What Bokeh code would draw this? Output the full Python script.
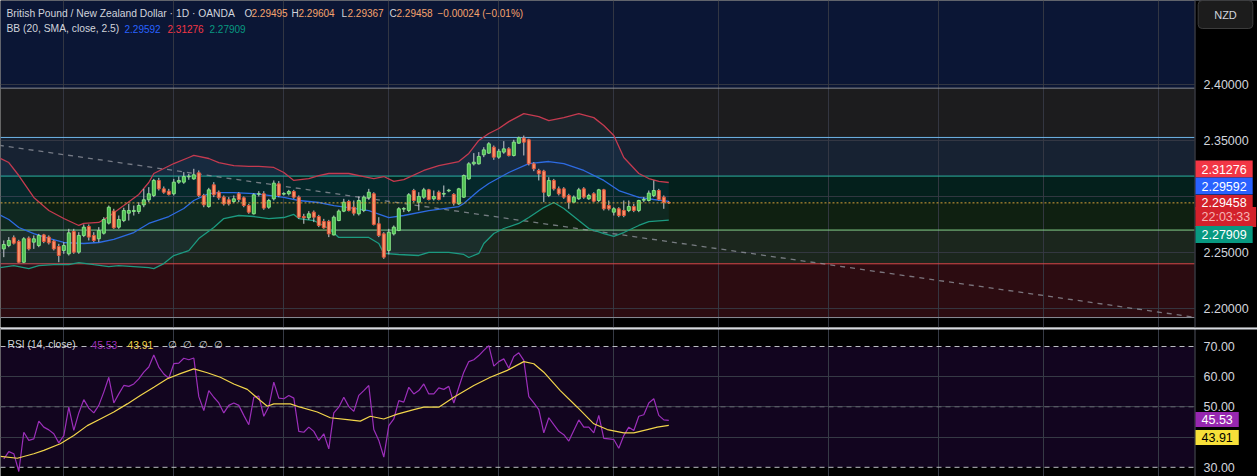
from bokeh.plotting import figure
from bokeh.models import Range1d, FixedTicker, Label, Span, BoxAnnotation
from bokeh.layouts import column
from bokeh.core.properties import value
from bokeh.embed import file_html
from bokeh.resources import INLINE

# ---------------- data ----------------
opens = [
    2.2535, 2.2565, 2.2634, 2.2601, 2.2416, 2.2631, 2.2595, 2.2565, 2.2660, 2.2640,
    2.2604, 2.2556, 2.2521, 2.2491, 2.2690, 2.2506, 2.2655, 2.2735, 2.2655, 2.2625,
    2.2675, 2.2765, 2.2872, 2.2729, 2.2788, 2.2854, 2.2869, 2.2869, 2.2928, 2.2973,
    2.3012, 2.3146, 2.3071, 2.3050, 2.3027, 2.3131, 2.3131, 2.3178, 2.3160, 2.3214,
    2.3012, 2.2913, 2.3107, 2.3041, 2.2997, 2.2973, 2.2958, 2.3027, 2.2991, 2.2922,
    2.2848, 2.3024, 2.3027, 2.2907, 2.2982, 2.3116, 2.3024, 2.3027, 2.3047, 2.2997,
    2.2824, 2.2812, 2.2863, 2.2824, 2.2780, 2.2780, 2.2660, 2.2788, 2.2872, 2.2958,
    2.2907, 2.2848, 2.2878, 2.2991, 2.3027, 2.2759, 2.2669, 2.2521, 2.2669, 2.2699,
    2.2890, 2.2878, 2.3056, 2.2952, 2.2997, 2.3062, 2.2982, 2.3041, 2.3024, 2.3053,
    2.3021, 2.2937, 2.2997, 2.3160, 2.3294, 2.3294, 2.3375, 2.3390, 2.3443, 2.3354,
    2.3399, 2.3428, 2.3369, 2.3479, 2.3524, 2.3509, 2.3294, 2.3235, 2.3229, 2.3012,
    2.3146, 2.3071, 2.3071, 2.3012, 2.2952, 2.2982, 2.3071, 2.2982, 2.3027, 2.2967,
    2.3062, 2.2922, 2.2863, 2.2893, 2.2878, 2.2878, 2.2913, 2.2878, 2.2970, 2.2967,
    2.3012, 2.3056, 2.2997, 2.29495]
highs = [
    2.2610, 2.2640, 2.2655, 2.2616, 2.2640, 2.2646, 2.2655, 2.2669, 2.2669, 2.2655,
    2.2616, 2.2580, 2.2595, 2.2714, 2.2714, 2.2684, 2.2753, 2.2753, 2.2684, 2.2729,
    2.2818, 2.2922, 2.2893, 2.2833, 2.2902, 2.2937, 2.2922, 2.2952, 2.3071, 2.3086,
    2.3160, 2.3169, 2.3092, 2.3071, 2.3160, 2.3181, 2.3220, 2.3205, 2.3250, 2.3235,
    2.3027, 2.3080, 2.3131, 2.3056, 2.3012, 2.2997, 2.3012, 2.3041, 2.3003, 2.2937,
    2.3032, 2.3050, 2.3050, 2.2982, 2.3146, 2.3140, 2.3041, 2.3062, 2.3062, 2.3012,
    2.2848, 2.2872, 2.2878, 2.2839, 2.2803, 2.2794, 2.2833, 2.2887, 2.2982, 2.2973,
    2.2967, 2.3003, 2.3012, 2.3071, 2.3041, 2.2818, 2.2684, 2.2714, 2.2744, 2.2907,
    2.2907, 2.3033, 2.3071, 2.3041, 2.3080, 2.3071, 2.3056, 2.3056, 2.3101, 2.3071,
    2.3033, 2.3080, 2.3199, 2.3309, 2.3390, 2.3399, 2.3443, 2.3488, 2.3458, 2.3428,
    2.3497, 2.3443, 2.3509, 2.3538, 2.3547, 2.3518, 2.3309, 2.3250, 2.3241, 2.3175,
    2.3160, 2.3092, 2.3086, 2.3027, 2.3012, 2.3080, 2.3086, 2.3027, 2.3041, 2.3071,
    2.3071, 2.2967, 2.2907, 2.2907, 2.2967, 2.2967, 2.2937, 2.2973, 2.2997, 2.3056,
    2.3146, 2.3071, 2.3012, 2.29604]
lows = [
    2.2461, 2.2550, 2.2574, 2.2408, 2.2408, 2.2521, 2.2535, 2.2550, 2.2586, 2.2574,
    2.2521, 2.2416, 2.2491, 2.2476, 2.2491, 2.2491, 2.2640, 2.2610, 2.2595, 2.2595,
    2.2663, 2.2753, 2.2714, 2.2714, 2.2774, 2.2788, 2.2833, 2.2848, 2.2907, 2.2952,
    2.2997, 2.3056, 2.3027, 2.3012, 2.3012, 2.3116, 2.3116, 2.3152, 2.3152, 2.2997,
    2.2907, 2.2902, 2.2997, 2.2973, 2.2922, 2.2922, 2.2943, 2.2952, 2.2907, 2.2848,
    2.2842, 2.3003, 2.2884, 2.2893, 2.2967, 2.2997, 2.3012, 2.3012, 2.2982, 2.2803,
    2.2759, 2.2794, 2.2774, 2.2729, 2.2714, 2.2640, 2.2655, 2.2782, 2.2863, 2.2869,
    2.2833, 2.2833, 2.2863, 2.2973, 2.2744, 2.2640, 2.2446, 2.2485, 2.2655, 2.2693,
    2.2863, 2.2863, 2.2952, 2.2878, 2.2982, 2.2967, 2.2967, 2.2967, 2.2997, 2.3041,
    2.2922, 2.2928, 2.2991, 2.3152, 2.3280, 2.3288, 2.3354, 2.3384, 2.3330, 2.3339,
    2.3384, 2.3360, 2.3360, 2.3473, 2.3369, 2.3280, 2.3229, 2.3146, 2.2952, 2.2997,
    2.3056, 2.3012, 2.2982, 2.2893, 2.2943, 2.2973, 2.2982, 2.2973, 2.2952, 2.2952,
    2.2878, 2.2878, 2.2833, 2.2818, 2.2818, 2.2863, 2.2863, 2.2863, 2.2952, 2.2958,
    2.2997, 2.2967, 2.2893, 2.29367]
closes = [
    2.2574, 2.2610, 2.2586, 2.2416, 2.2625, 2.2535, 2.2625, 2.2655, 2.2601, 2.2589,
    2.2535, 2.2476, 2.2565, 2.2678, 2.2506, 2.2655, 2.2729, 2.2640, 2.2610, 2.2699,
    2.2797, 2.2907, 2.2723, 2.2797, 2.2878, 2.2878, 2.2878, 2.2922, 2.2973, 2.3027,
    2.3146, 2.3071, 2.3041, 2.3021, 2.3131, 2.3146, 2.3181, 2.3184, 2.3196, 2.3012,
    2.2928, 2.3062, 2.3018, 2.2991, 2.2937, 2.2937, 2.2982, 2.2976, 2.2922, 2.2863,
    2.3018, 2.3027, 2.2899, 2.2967, 2.3122, 2.3012, 2.3030, 2.3047, 2.2997, 2.2818,
    2.2812, 2.2848, 2.2818, 2.2744, 2.2723, 2.2669, 2.2818, 2.2872, 2.2952, 2.2878,
    2.2854, 2.2967, 2.2997, 2.3041, 2.2753, 2.2655, 2.2461, 2.2684, 2.2729, 2.2893,
    2.2896, 2.3018, 2.2967, 2.3003, 2.3062, 2.2976, 2.3003, 2.2976, 2.3030, 2.3059,
    2.2943, 2.3071, 2.3190, 2.3294, 2.3309, 2.3360, 2.3419, 2.3473, 2.3354, 2.3407,
    2.3428, 2.3369, 2.3488, 2.3527, 2.3488, 2.3294, 2.3250, 2.3205, 2.3041, 2.3146,
    2.3071, 2.3027, 2.2997, 2.2952, 2.2997, 2.3062, 2.2997, 2.3012, 2.2961, 2.3062,
    2.2893, 2.2893, 2.2893, 2.2833, 2.2833, 2.2913, 2.2878, 2.2967, 2.2976, 2.3033,
    2.3056, 2.2976, 2.29482, 2.29458]

bb_up_x = [0, 2, 4, 7, 10, 13, 16, 17, 20, 22, 25, 28, 30, 31, 33, 35, 38, 39, 42, 44,
           47, 50, 52, 55, 57, 59, 62, 64, 66, 70, 73, 75, 77, 79, 81, 85, 88, 92, 94, 96,
           98, 100, 102, 105, 108, 110, 113, 116, 119, 121, 123, 125, 128, 130, 132, 134]
bb_up = [2.3350, 2.3306, 2.3190, 2.2994, 2.2878, 2.2806, 2.2744, 2.2762, 2.2771, 2.2824,
         2.2922, 2.3021, 2.3128, 2.3208, 2.3253, 2.3297, 2.3351, 2.3369, 2.3342, 2.3306,
         2.3279, 2.3271, 2.3271, 2.3262, 2.3217, 2.3146, 2.3163, 2.3190, 2.3208, 2.3208,
         2.3181, 2.3163, 2.3181, 2.3137, 2.3154, 2.3235, 2.3279, 2.3315, 2.3387, 2.3503,
         2.3565, 2.3610, 2.3671, 2.3743, 2.3716, 2.3680, 2.3707, 2.3743, 2.3707, 2.3637,
         2.3548, 2.3351, 2.3208, 2.3163, 2.3137, 2.31276]
bb_mid_x = [0, 2, 4, 7, 10, 13, 17, 20, 23, 27, 30, 34, 37, 39, 42, 44, 47, 51, 54, 57,
            60, 64, 67, 70, 74, 78, 81, 86, 92, 93, 96, 98, 102, 106, 110, 113, 117, 121,
            124, 128, 131, 134]
bb_mid = [2.2842, 2.2797, 2.2726, 2.2672, 2.2628, 2.2592, 2.2583, 2.2592, 2.2619, 2.2681,
          2.2762, 2.2824, 2.2896, 2.2967, 2.3029, 2.3038, 2.3038, 2.3029, 2.3012, 2.2994,
          2.2967, 2.2949, 2.2922, 2.2904, 2.2877, 2.2815, 2.2833, 2.2877, 2.2913, 2.2940,
          2.3056, 2.3119, 2.3217, 2.3297, 2.3315, 2.3297, 2.3235, 2.3146, 2.3056, 2.2994,
          2.2976, 2.29592]
bb_lo_x = [0, 3, 6, 8, 11, 14, 16, 19, 22, 24, 27, 30, 31, 33, 35, 38, 40, 43, 45, 48,
           51, 54, 57, 59, 60, 63, 66, 68, 70, 74, 76, 77, 80, 84, 86, 90, 93, 94, 96, 97,
           99, 101, 104, 106, 109, 111, 113, 116, 118, 121, 123, 125, 128, 130, 134]
bb_lo = [2.2367, 2.2385, 2.2358, 2.2385, 2.2394, 2.2394, 2.2413, 2.2394, 2.2377, 2.2385,
         2.2377, 2.2367, 2.2359, 2.2404, 2.2475, 2.2520, 2.2627, 2.2726, 2.2806, 2.2833,
         2.2824, 2.2806, 2.2815, 2.2842, 2.2806, 2.2788, 2.2717, 2.2637, 2.2637, 2.2637,
         2.2583, 2.2494, 2.2485, 2.2476, 2.2503, 2.2503, 2.2485, 2.2458, 2.2494, 2.2583,
         2.2672, 2.2717, 2.2762, 2.2815, 2.2904, 2.2949, 2.2896, 2.2788, 2.2717, 2.2672,
         2.2646, 2.2681, 2.2744, 2.2779, 2.27909]

rsi = [
    32.8, 35.2, 34.5, 28.6, 41.6, 38.9, 39.4, 45.3, 43.3, 42.4,
    41.1, 38.1, 40.5, 49.9, 42.2, 48.0, 52.4, 49.6, 48.0, 50.5,
    54.9, 59.8, 51.3, 54.3, 57.1, 56.8, 57.6, 59.3, 61.5, 63.2,
    67.2, 63.2, 60.9, 59.5, 64.3, 64.5, 66.1, 65.6, 66.2, 53.4,
    48.8, 55.4, 53.2, 51.3, 48.0, 50.5, 51.3, 50.5, 47.2, 44.1,
    53.2, 53.6, 46.9, 50.1, 58.2, 52.9, 52.7, 53.8, 52.9, 41.9,
    41.6, 43.3, 41.9, 38.9, 41.1, 36.1, 48.0, 49.9, 53.2, 50.1,
    48.5, 53.8, 55.4, 57.1, 42.5, 38.9, 33.4, 43.8, 46.0, 52.1,
    51.6, 56.5, 54.3, 55.4, 57.6, 54.3, 54.3, 56.3, 55.8, 56.8,
    51.3, 56.5, 61.5, 65.0, 65.6, 67.0, 68.7, 70.3, 63.5, 65.0,
    65.9, 62.8, 66.7, 67.9, 65.4, 53.4, 51.3, 49.1, 41.4, 46.4,
    44.1, 41.9, 40.8, 38.7, 42.2, 45.7, 43.3, 43.3, 41.4, 47.2,
    39.6, 39.4, 39.2, 36.3, 40.5, 43.3, 42.2, 46.9, 47.4, 51.3,
    52.7, 47.2, 45.7, 45.53]
rsi_ma_x = [0.34, 3.7, 7, 9, 12.3, 15, 17.7, 20.3, 23, 25.7, 28.3, 31, 33.7, 36.3, 39,
            41.7, 44.3, 47, 49.7, 52.3, 53.7, 55, 58.3, 60.3, 63.7, 66.3, 69.7, 72.3, 74.3,
            77, 79.7, 83, 85, 88, 91, 95, 98.3, 101.7, 105, 107, 109, 112.3, 115.7, 119,
            121.7, 125, 127, 129.7, 131.7, 134]
rsi_ma = [33.6, 33.0, 34.5, 35.6, 37.8, 40.5, 43.8, 46.0, 48.3, 51.0, 53.8, 56.5, 59.3,
          61.0, 62.6, 61.3, 59.8, 57.6, 55.8, 52.1, 50.2, 51.0, 51.0, 49.9, 48.3, 46.4,
          45.8, 45.3, 46.9, 46.0, 47.6, 49.1, 49.9, 49.9, 53.2, 57.1, 59.8, 62.1, 65.0,
          64.3, 61.5, 55.4, 49.9, 44.4, 42.5, 41.4, 41.4, 42.5, 43.3, 43.91]

trend_x = [0, 240]
trend_y = [2.3460, 2.1919]

zone_lo = [2.1922, 2.2402, 2.2703, 2.2946, 2.3185, 2.3530, 2.3970]
zone_hi = [2.2402, 2.2703, 2.2946, 2.3185, 2.3530, 2.3970, None]
zone_colors = ["#2c0c11", "#1b261d", "#0f2011", "#04201c", "#172232", "#1c1c1e", "#0b1635"]
level_prices = [2.1922, 2.2402, 2.2703, 2.3185, 2.3530, 2.3970]
level_colors = ["#8a8d96", "#d9474a", "#86d08a", "#2bb3a0", "#6fb6ea", "#8a8d96"]

month_starts = [13, 35, 57, 78, 100, 123, 144, 166, 188, 209, 232]
price_ticks = [2.20, 2.25, 2.35, 2.40]
price_grid = [2.20, 2.25, 2.30, 2.35, 2.40]
rsi_ticks = [30, 50, 60, 70]
rsi_grid = [40, 50, 60]

bars = list(range(1, len(closes) + 1))

# ---------------- geometry ----------------
W = 1257
MAIN_H = 327
RSI_H = 149           # includes the 2px pane separator on top
AXIS_X = 1194         # left edge of the price-scale column
BAR_PX = 5.0
X0 = 0.34
PRICE_PX = 1120.0
P_TOP = 2.30 + 196.3 / PRICE_PX
RSI_PX = 3.02
R_TOP = 70 + (346 - MAIN_H) / RSI_PX

x_range = Range1d(X0, X0 + W / BAR_PX)
main_y = Range1d(P_TOP - MAIN_H / PRICE_PX, P_TOP)
rsi_y = Range1d(R_TOP - RSI_H / RSI_PX, R_TOP)


def mx(px):
    return X0 + px / BAR_PX


def mp(py):
    return P_TOP - py / PRICE_PX


def rp(py):
    return R_TOP - (py - MAIN_H) / RSI_PX


FONT = "Liberation Sans"
GRID = "#363a45"
TXT = "#d1d4dc"
LEG = "10.3px"


def text(fig, x, y, s, color, size=LEG, align="left", bg=None, pad=None,
         border=None, radius=None):
    lab = Label(x=x, y=y, text=s, text_color=color, text_font=FONT, text_font_size=size,
                text_align=align, text_baseline="middle")
    if bg is not None:
        lab.background_fill_color = bg
        lab.background_fill_alpha = 1.0
        lab.padding = pad
    if border is not None:
        lab.border_line_color = border
    if radius is not None:
        lab.border_radius = radius
    fig.add_layout(lab)


def make_fig(height, yr):
    f = figure(width=W, height=height, x_range=x_range, y_range=yr, output_backend="svg",
               toolbar_location=None, x_axis_location=None, y_axis_location=None,
               background_fill_color="#000000", border_fill_color="#000000",
               outline_line_color=None, min_border=0)
    return f


def price_scale(fig, ticks, labels):
    # black price-scale column with its border and tick labels
    fig.add_layout(BoxAnnotation(left=mx(AXIS_X), fill_color="#000000", fill_alpha=1.0,
                                 line_alpha=0, level="annotation"))
    fig.add_layout(Span(location=mx(AXIS_X + 0.5), dimension="height", line_color="#50535e",
                        line_width=1, level="annotation"))
    fig.text(x=[mx(AXIS_X + 9)] * len(ticks), y=ticks, text=labels, text_color=TXT,
             text_font=value(FONT), text_font_size="12.5px", text_baseline="middle",
             text_align="left", level="overlay")


# ---------------- main pane ----------------
p = make_fig(MAIN_H, main_y)
p.xgrid.ticker = FixedTicker(ticks=month_starts)
p.ygrid.ticker = FixedTicker(ticks=price_grid)
p.grid.grid_line_color = GRID
p.grid.grid_line_alpha = 0.9

for lo, hi, col in zip(zone_lo, zone_hi, zone_colors):
    p.add_layout(BoxAnnotation(bottom=lo, top=hi, fill_color=col, fill_alpha=1.0,
                               line_alpha=0, level="image"))
for lv, col in zip(level_prices, level_colors):
    p.add_layout(Span(location=lv, dimension="width", line_color=col, line_width=1,
                      level="underlay"))

p.patch(bb_up_x + bb_lo_x[::-1], bb_up + bb_lo[::-1], fill_color="#2196f3",
        fill_alpha=0.07, line_alpha=0)
p.line(trend_x, trend_y, line_color="#9598a1", line_alpha=0.75, line_width=1.3,
       line_dash="5 5")
p.line(bb_up_x, bb_up, line_color="#c53a4f", line_width=1.3)
p.line(bb_mid_x, bb_mid, line_color="#2d6be2", line_width=1.3)
p.line(bb_lo_x, bb_lo, line_color="#1c9a80", line_width=1.3)

p.segment(bars, highs, bars, lows, line_color="#c9ccd3", line_width=1)
inc = [i for i in range(len(bars)) if closes[i] >= opens[i]]
dec = [i for i in range(len(bars)) if closes[i] < opens[i]]
p.vbar(x=[bars[i] for i in inc], bottom=[opens[i] for i in inc], top=[closes[i] for i in inc],
       width=0.6, fill_color="#4cbf4f", line_color="#86e386", line_width=1)
p.vbar(x=[bars[i] for i in dec], bottom=[closes[i] for i in dec], top=[opens[i] for i in dec],
       width=0.6, fill_color="#f8946c", line_color="#e2553a", line_width=1)

p.add_layout(Span(location=closes[-1], dimension="width", line_color="#d6a53a",
                  line_width=1, line_dash="2 2"))

price_scale(p, price_ticks, [f"{t:.5f}" for t in price_ticks])

# legend texts
OR = "#f5a36d"
text(p, mx(6), mp(12.5), "British Pound / New Zealand Dollar · 1D · OANDA", TXT)
for lx, letter, vx, val in [(244, "O", 251, opens[-1]), (291, "H", 298, highs[-1]),
                            (341, "L", 347, lows[-1]), (389, "C", 396, closes[-1])]:
    text(p, mx(lx), mp(12.5), letter, TXT, size="10px")
    text(p, mx(vx), mp(12.5), f"{val:.5f}", OR, size="10px")
chg = closes[-1] - closes[-2]
text(p, mx(437), mp(12.5),
     f"\u2212{abs(chg):.5f} (\u2212{abs(chg) / closes[-2] * 100:.2f}%)", OR, size="10px")
text(p, mx(6), mp(28), "BB (20, SMA, close, 2.5)", TXT)
text(p, mx(124), mp(28), f"{bb_mid[-1]:.5f}", "#2962ff", size="10px")
text(p, mx(167), mp(28), f"{bb_up[-1]:.5f}", "#f23645", size="10px")
text(p, mx(209), mp(28), f"{bb_lo[-1]:.5f}", "#089981", size="10px")

# price-scale value boxes  (padding = (horizontal, vertical))
AX = mx(AXIS_X + 1)
text(p, AX, mp(168.5), f"{bb_up[-1]:.5f}", "#ffffff", size="12.5px", bg="#f23645", pad=(6, 4))
text(p, AX, mp(185.5), f"{bb_mid[-1]:.5f}", "#ffffff", size="12.5px", bg="#2962ff", pad=(6, 4))
text(p, AX, mp(216.5), "22:03:33", "#f6b3b3", size="12.5px", bg="#d3212b", pad=(6, 3))
text(p, AX, mp(202), f"{closes[-1]:.5f}", "#ffffff", size="12.5px", bg="#d3212b", pad=(6, 3))
text(p, AX, mp(234), f"{bb_lo[-1]:.5f}", "#ffffff", size="12.5px", bg="#089981", pad=(6, 4))
text(p, mx(1225), mp(14), "NZD", TXT, size="11px", align="center", bg="#1c1c1c",
     pad=(16, 8), border="#3c3c3c", radius=4)

# ---------------- RSI pane ----------------
r = make_fig(RSI_H, rsi_y)
r.xgrid.ticker = FixedTicker(ticks=month_starts)
r.ygrid.ticker = FixedTicker(ticks=rsi_grid)
r.grid.grid_line_color = GRID
r.add_layout(BoxAnnotation(bottom=30, top=70, fill_color="#12051f", fill_alpha=1.0,
                           line_alpha=0, level="image"))
for lv, col, a in [(70, "#cfd1d6", 0.9), (30, "#cfd1d6", 0.9), (50, "#8a8d96", 0.6)]:
    r.add_layout(Span(location=lv, dimension="width", line_color=col, line_alpha=a,
                      line_width=1, line_dash="5 4", level="underlay"))
r.line(bars, rsi, line_color="#9c2fba", line_width=1.2)
r.line(rsi_ma_x, rsi_ma, line_color="#f2d54b", line_width=1.2)

price_scale(r, rsi_ticks, [f"{t:.2f}" for t in rsi_ticks])

text(r, mx(7), rp(344), "RSI (14, close)", TXT)
text(r, mx(91), rp(344), f"{rsi[-1]:.2f}", "#9c2fba")
text(r, mx(127), rp(344), f"{rsi_ma[-1]:.2f}", "#f2d54b")
for ex in [167, 182, 198, 213]:
    text(r, mx(ex), rp(344), "\u2205", TXT)
text(r, AX, rp(419), f"{rsi[-1]:.2f}", "#ffffff", size="12.5px", bg="#9727b0", pad=(6, 3))
text(r, AX, rp(437), f"{rsi_ma[-1]:.2f}", "#000000", size="12.5px", bg="#f7e039", pad=(6, 3))

# pane separator (top 2px of the RSI pane, full width)
r.add_layout(BoxAnnotation(bottom=rp(MAIN_H + 2), fill_color="#d6d9e0", fill_alpha=1.0,
                           line_alpha=0, level="overlay"))

layout = column(p, r, spacing=0)

open("out.html", "w").write(file_html(layout, INLINE))
